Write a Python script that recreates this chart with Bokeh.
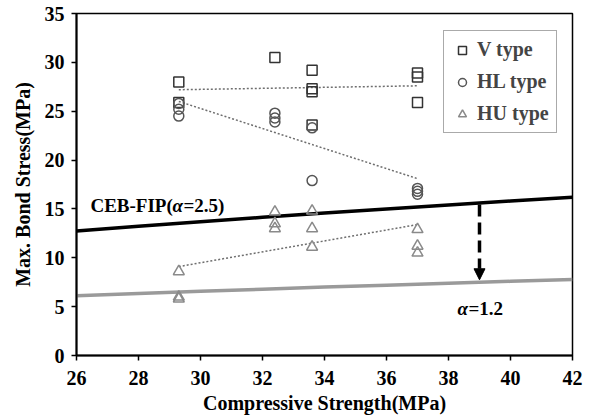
from bokeh.plotting import figure
from bokeh.models import Range1d, Label, Arrow, NormalHead, FixedTicker
from bokeh.embed import file_html
from bokeh.resources import INLINE

# ---- data ----
v_x = [29.3, 29.3, 32.4, 33.6, 33.6, 33.6, 33.6, 37.0, 37.0, 37.0]
v_y = [28.0, 25.9, 30.5, 29.2, 27.3, 27.0, 23.6, 28.9, 28.5, 25.9]
hl_x = [29.3, 29.3, 29.3, 32.4, 32.4, 32.4, 33.6, 33.6, 37.0, 37.0, 37.0]
hl_y = [25.8, 25.2, 24.5, 24.8, 24.3, 23.9, 23.3, 17.9, 17.1, 16.8, 16.5]
hu_x = [29.3, 29.3, 29.3, 32.4, 32.4, 32.4, 33.6, 33.6, 33.6, 37.0, 37.0, 37.0]
hu_y = [8.6, 6.0, 5.8, 14.7, 13.5, 13.0, 14.8, 13.0, 11.1, 12.9, 11.2, 10.5]
trend_x = [29.3, 37.0]
v_trend = [27.2, 27.6]
hl_trend = [26.0, 18.1]
hu_trend = [9.1, 13.4]
code_x = [26, 28, 30, 32, 34, 36, 38, 40, 42]
ceb_fip = [12.75, 13.23, 13.69, 14.14, 14.58, 15.00, 15.41, 15.81, 16.20]
alpha12 = [6.12, 6.35, 6.57, 6.79, 7.00, 7.20, 7.40, 7.59, 7.78]
x_ticks = [26, 28, 30, 32, 34, 36, 38, 40, 42]
y_ticks = [0, 5, 10, 15, 20, 25, 30, 35]
arrow_x = 39.0
arrow_y = [15.45, 7.75]

FONT = "Liberation Serif"

p = figure(width=586, height=416, output_backend="svg", toolbar_location=None,
           x_range=Range1d(26, 42), y_range=Range1d(0, 35))
p.min_border_left = 76
p.min_border_right = 14
p.min_border_top = 13
p.min_border_bottom = 40
p.background_fill_color = "white"
p.border_fill_color = "white"
p.outline_line_color = "black"
p.outline_line_width = 1.5
p.xgrid.visible = False
p.ygrid.visible = False

for ax in (p.xaxis[0], p.yaxis[0]):
    ax.axis_line_color = "black"
    ax.axis_line_width = 2
    ax.major_tick_line_color = "black"
    ax.major_tick_line_width = 1.5
    ax.major_tick_out = 5
    ax.major_tick_in = 0
    ax.minor_tick_line_color = None
    ax.major_label_text_font = FONT
    ax.major_label_text_font_style = "bold"
    ax.major_label_text_font_size = "20px"
    ax.major_label_text_color = "black"
    ax.axis_label_text_font = FONT
    ax.axis_label_text_font_style = "bold"
    ax.axis_label_text_font_size = "20px"
    ax.axis_label_text_color = "black"

p.xaxis.ticker = FixedTicker(ticks=x_ticks)
p.yaxis.ticker = FixedTicker(ticks=y_ticks)
p.xaxis.axis_label = "Compressive Strength(MPa)"
p.yaxis.axis_label = "Max. Bond Stress(MPa)"
p.xaxis.major_label_standoff = 10
p.xaxis.axis_label_standoff = 4
p.yaxis.major_label_standoff = 7
p.yaxis.axis_label_standoff = 8

# code lines
p.line(code_x, ceb_fip, line_color="black", line_width=3.5)
p.line(code_x, alpha12, line_color="#9a9a9a", line_width=3.5)

# trend lines
for ty in (v_trend, hl_trend, hu_trend):
    p.line(trend_x, ty, line_color="#6e6e6e", line_width=1.5, line_dash="2 2")

# markers
p.scatter(v_x, v_y, marker="square", size=10, fill_color=None,
          line_color="#333333", line_width=1.5, legend_label="V type")
p.scatter(hl_x, hl_y, marker="circle", size=10, fill_color=None,
          line_color="#555555", line_width=1.5, legend_label="HL type")
p.scatter(hu_x, hu_y, marker="triangle", size=11, fill_color=None,
          line_color="#8a8a8a", line_width=1.5, legend_label="HU type")

# arrow
p.add_layout(Arrow(end=NormalHead(size=11, fill_color="black", line_color="black"),
                   x_start=arrow_x, y_start=arrow_y[0], x_end=arrow_x, y_end=arrow_y[1],
                   line_color="black", line_width=3.5, line_dash="12 6"))

# labels
def lab(x, y, txt, style="bold", xoff=0):
    p.add_layout(Label(x=x, y=y, text=txt, x_offset=xoff, text_font=FONT,
                       text_font_style=style, text_font_size="19px",
                       text_color="black", text_baseline="middle", text_align="left"))

lab(26.45, 15.3, "CEB-FIP(")
lab(26.45, 15.3, "\u03b1", "bold italic", 82)
lab(26.45, 15.3, "=2.5)", "bold", 93)
lab(38.29, 4.85, "\u03b1", "bold italic")
lab(38.29, 4.85, "=1.2", "bold", 11)

leg = p.legend[0]
leg.location = (367, 222)
leg.border_line_color = "#555555"
leg.border_line_width = 1.5
leg.background_fill_color = "white"
leg.background_fill_alpha = 1
leg.label_text_font = FONT
leg.label_text_font_style = "bold"
leg.label_text_font_size = "20px"
leg.glyph_height = 20
leg.glyph_width = 22
leg.label_height = 20
leg.spacing = 9
leg.padding = 7
leg.label_standoff = 4
leg.margin = 0

open("out.html", "w").write(file_html(p, INLINE))
